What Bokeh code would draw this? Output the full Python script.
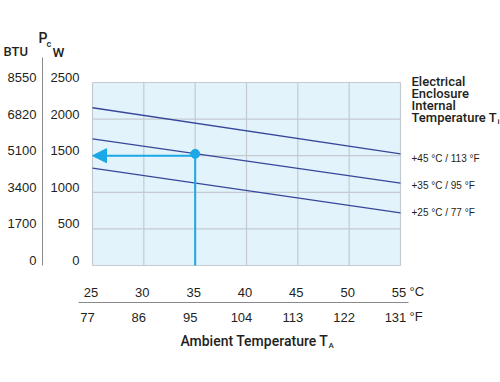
from bokeh.plotting import figure
from bokeh.models import LinearAxis, Range1d, FixedTicker, Label, Arrow, NormalHead
from bokeh.embed import file_html
from bokeh.resources import INLINE

# ---- data ----
celsius = [25, 30, 35, 40, 45, 50, 55]
fahrenheit = ["77", "86", "95", "104", "113", "122", "131"]
watts = [0, 500, 1000, 1500, 2000, 2500]
btu = ["0", "1700", "3400", "5100", "6820", "8550"]
curve_x = [25, 55]
curve_45 = [2155, 1525]
curve_35 = [1730, 1125]
curve_25 = [1330, 720]
series_labels = ["+45 °C / 113 °F", "+35 °C / 95 °F", "+25 °C / 77 °F"]
op_ambient = 35
op_power = 1500
op_point = 1525

FONT = "Liberation Sans"
FONT_MED = "Roboto Medium"
TXT = "#231f20"
CYAN = "#1aa9e6"
NAVY = "#37479a"
GRID = "#c3cbd0"
BG = "#e2f3fc"
SEP = "#8a8a8a"

W, H = 500, 382
# pixel placement of the chart area (positions only)
PX_L, PX_R, PX_T, PX_B = 92, 400, 82, 265
XS = (celsius[-1] - celsius[0]) / (PX_R - PX_L)   # data per px
YS = (watts[-1] - watts[0]) / (PX_B - PX_T)


def dx(px):
    return celsius[0] + (px - PX_L) * XS


def dy(py):
    return watts[0] + (PX_B - py) * YS


p = figure(width=W, height=H, output_backend="svg", toolbar_location=None,
           x_range=Range1d(dx(0), dx(W)), y_range=Range1d(dy(H), dy(0)),
           x_axis_location=None, y_axis_location=None,
           min_border=0, min_border_left=0, min_border_right=0,
           min_border_top=0, min_border_bottom=0)
p.background_fill_color = "white"
p.border_fill_color = "white"
p.outline_line_color = None
p.xgrid.visible = False
p.ygrid.visible = False

# label ranges shifted by a few px so tick labels sit as in the original
Y_SHIFT = 5 * YS
C_SHIFT = 1.5 * XS
F_SHIFT = 5 * XS
p.extra_y_ranges = {"lab": Range1d(dy(H) - Y_SHIFT, dy(0) - Y_SHIFT)}
p.extra_x_ranges = {"clab": Range1d(dx(0) + C_SHIFT, dx(W) + C_SHIFT),
                    "flab": Range1d(dx(0) + F_SHIFT, dx(W) + F_SHIFT)}


def style_axis(ax, standoff):
    ax.major_tick_line_color = None
    ax.minor_tick_line_color = None
    ax.major_tick_out = 0
    ax.major_tick_in = 0
    ax.minor_tick_out = 0
    ax.minor_tick_in = 0
    ax.major_label_standoff = standoff
    ax.major_label_text_font = FONT
    ax.major_label_text_font_size = "13px"
    ax.major_label_text_color = TXT


# bottom axes
xc = LinearAxis(ticker=FixedTicker(ticks=celsius), fixed_location=watts[0],
                x_range_name="clab")
style_axis(xc, 22)
xc.axis_line_color = None
xf = LinearAxis(ticker=FixedTicker(ticks=celsius), fixed_location=dy(302),
                x_range_name="flab",
                major_label_overrides=dict(zip(celsius, fahrenheit)),
                bounds=(dx(78) + F_SHIFT, dx(408) + F_SHIFT))
style_axis(xf, 10)
xf.axis_line_color = SEP
xf.axis_line_width = 1
p.add_layout(xc, "below")
p.add_layout(xf, "below")

# left axes
yw = LinearAxis(ticker=FixedTicker(ticks=watts), fixed_location=celsius[0],
                y_range_name="lab")
style_axis(yw, 13)
yw.axis_line_color = None
yb = LinearAxis(ticker=FixedTicker(ticks=watts), fixed_location=dx(42),
                y_range_name="lab",
                major_label_overrides=dict(zip(watts, btu)),
                bounds=(dy(265) - Y_SHIFT, dy(57) - Y_SHIFT))
style_axis(yb, 6)
yb.axis_line_color = SEP
yb.axis_line_width = 1
p.add_layout(yw, "left")
p.add_layout(yb, "left")

# chart area and grid
n_x, n_y = len(celsius), len(watts)
p.quad(left=celsius[0], right=celsius[-1], bottom=watts[0], top=watts[-1],
       fill_color=BG, line_color=None)
p.segment(x0=celsius, y0=[watts[0]] * n_x, x1=celsius, y1=[watts[-1]] * n_x,
          line_color=GRID, line_width=1.2)
p.segment(x0=[celsius[0]] * n_y, y0=watts, x1=[celsius[-1]] * n_y, y1=watts,
          line_color=GRID, line_width=1.2)

for ys in (curve_45, curve_35, curve_25):
    p.line(curve_x, ys, line_color=NAVY, line_width=1.3)

# operating point
p.line([op_ambient, op_ambient], [watts[0], op_point], line_color=CYAN, line_width=2)
p.add_layout(Arrow(end=NormalHead(size=14, fill_color=CYAN, line_color=CYAN),
                   x_start=op_ambient, y_start=op_power,
                   x_end=celsius[0], y_end=op_power,
                   line_color=CYAN, line_width=2))
p.scatter([op_ambient], [op_point], size=9, color=CYAN)


def lab(x, y, text, size="13px", align="left", font=FONT):
    p.add_layout(Label(x=dx(x), y=dy(y), text=text, text_font=font,
                       text_font_size=size, text_align=align,
                       text_baseline="middle", text_color=TXT))


# right header
for i, t in enumerate(["Electrical", "Enclosure", "Internal", "Temperature T"]):
    lab(411, 81 + 12 * i, t, size="13px", font=FONT_MED)
lab(497, 121, "i", size="8px", font=FONT_MED)
for t, y in zip(series_labels, [158, 185, 212]):
    lab(411, y, t, size="10px")

# units
lab(409, 291, "°C")
lab(409, 316, "°F")

# x title
lab(180, 340, "Ambient Temperature T", size="14px", font=FONT_MED)
lab(328, 345, "A", size="8px", font=FONT_MED)

# left header
lab(3, 51, "BTU", font=FONT_MED)
lab(38, 37, "P", size="14px", font=FONT_MED)
lab(46, 43, "c", size="9px", font=FONT_MED)
lab(52, 51, "W", size="13.5px", font=FONT_MED)

open("out.html", "w").write(file_html(p, INLINE))
